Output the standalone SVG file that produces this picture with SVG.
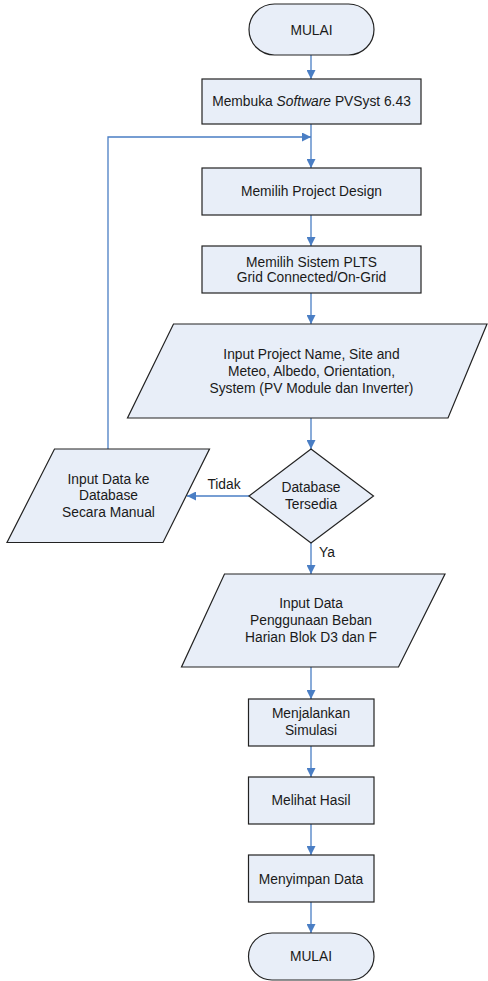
<svg xmlns="http://www.w3.org/2000/svg" width="488" height="981" viewBox="0 0 488 981">
<defs>
<style>
.shape{fill:#E8EEF8;stroke:#222;stroke-width:1.2}
.con{fill:none;stroke:#4A7EC4;stroke-width:1.3}
text{font-family:"Liberation Sans",Arial,sans-serif;font-size:13.8px;fill:#1a1a1a;text-anchor:middle}
</style>
<marker id="arr" viewBox="0 0 10 10" refX="10" refY="5" markerWidth="9" markerHeight="9" markerUnits="userSpaceOnUse" orient="auto">
<path d="M0,0 L10,5 L0,10 z" fill="#4A7EC4"/>
</marker>
</defs>
<rect width="488" height="981" fill="#fff"/>
<g id="connectors">
<path class="con" d="M311,55 V79" marker-end="url(#arr)"/>
<path class="con" d="M311,124 V168" marker-end="url(#arr)"/>
<path class="con" d="M108,449 V137 H311" marker-end="url(#arr)"/>
<path class="con" d="M311,215 V246" marker-end="url(#arr)"/>
<path class="con" d="M311,293 V324" marker-end="url(#arr)"/>
<path class="con" d="M311,418 V449" marker-end="url(#arr)"/>
<path class="con" d="M249,496 H187" marker-end="url(#arr)"/>
<path class="con" d="M311,543 V574" marker-end="url(#arr)"/>
<path class="con" d="M311,667 V699" marker-end="url(#arr)"/>
<path class="con" d="M311,746 V777" marker-end="url(#arr)"/>
<path class="con" d="M311,824 V855" marker-end="url(#arr)"/>
<path class="con" d="M311,902 V933" marker-end="url(#arr)"/>
<text x="224" y="489">Tidak</text>
<text x="327" y="557">Ya</text>
</g>
<g id="start">
<rect class="shape" x="249" y="4" width="125" height="51" rx="25.5"/>
<text x="311.5" y="35">MULAI</text>
</g>
<g id="open-software">
<rect class="shape" x="202" y="79" width="219" height="45"/>
<text x="311.5" y="106">Membuka <tspan font-style="italic">Software</tspan> PVSyst 6.43</text>
</g>
<g id="project-design">
<rect class="shape" x="202" y="168" width="219" height="47"/>
<text x="311.5" y="196">Memilih Project Design</text>
</g>
<g id="sistem-plts">
<rect class="shape" x="202" y="246" width="219" height="47"/>
<text x="311.5" y="266.5">Memilih Sistem PLTS</text>
<text x="311.5" y="282">Grid Connected/On-Grid</text>
</g>
<g id="input-project">
<polygon class="shape" points="173.5,324 487,324 448,418 127.5,418"/>
<text x="311.5" y="358.5">Input Project Name, Site and</text>
<text x="311.5" y="375.5">Meteo, Albedo, Orientation,</text>
<text x="311.5" y="392.5">System (PV Module dan Inverter)</text>
</g>
<g id="database">
<polygon class="shape" points="311,449 373.5,496 311,543 249,496"/>
<text x="311" y="491.5">Database</text>
<text x="311" y="508.5">Tersedia</text>
</g>
<g id="input-manual">
<polygon class="shape" points="54.5,449 209.5,449 163,542.5 7,542.5"/>
<text x="108.5" y="484">Input Data ke</text>
<text x="108.5" y="500">Database</text>
<text x="108.5" y="516.5">Secara Manual</text>
</g>
<g id="input-beban">
<polygon class="shape" points="224.5,574 445,574 398.5,667 181.5,667"/>
<text x="311" y="608">Input Data</text>
<text x="311" y="625">Penggunaan Beban</text>
<text x="311" y="642">Harian Blok D3 dan F</text>
</g>
<g id="simulasi">
<rect class="shape" x="248.5" y="699" width="125.5" height="47"/>
<text x="311" y="718">Menjalankan</text>
<text x="311" y="734.5">Simulasi</text>
</g>
<g id="hasil">
<rect class="shape" x="248.5" y="777" width="125.5" height="47"/>
<text x="311" y="804.5">Melihat Hasil</text>
</g>
<g id="simpan">
<rect class="shape" x="248.5" y="855" width="125.5" height="47"/>
<text x="311" y="883.5">Menyimpan Data</text>
</g>
<g id="end">
<rect class="shape" x="248.5" y="933" width="125.5" height="47" rx="23.5"/>
<text x="311" y="961">MULAI</text>
</g>
</svg>
